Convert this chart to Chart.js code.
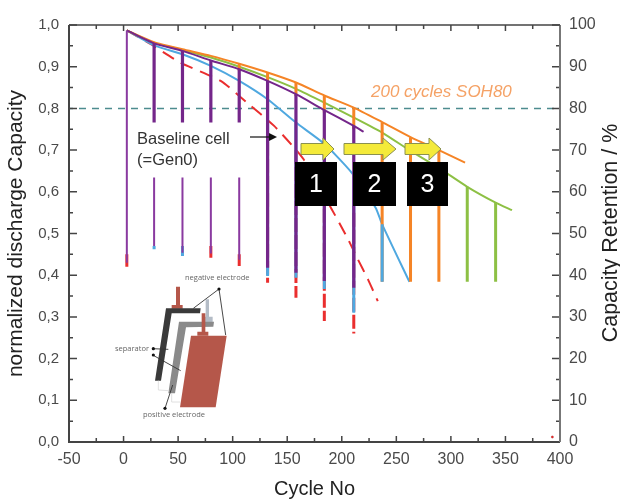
<!DOCTYPE html>
<html>
<head>
<meta charset="utf-8">
<title>Capacity retention</title>
<script src="https://cdn.jsdelivr.net/npm/chart.js@4/dist/chart.umd.min.js"></script>
<style>
html, body { margin: 0; padding: 0; background: #fff; }
canvas { display: block; }
</style>
</head>
<body>
<canvas id="capacityChart" width="620" height="501"></canvas>
<script>
// tick labels
var cycleTicks = [-50, 0, 50, 100, 150, 200, 250, 300, 350, 400];
var capacityTicks = [0, 0.1, 0.2, 0.3, 0.4, 0.5, 0.6, 0.7, 0.8, 0.9, 1];
var retentionTicks = [0, 10, 20, 30, 40, 50, 60, 70, 80, 90, 100];

// fade curves
var purpleCycles = [3, 28, 54, 80, 106, 132, 158, 184, 211, 220];
var purpleValues = [0.987, 0.956, 0.938, 0.915, 0.894, 0.866, 0.834, 0.796, 0.758, 0.744];
var orangeCycles = [3, 28, 54, 80, 106, 132, 158, 184, 211, 237, 263, 289, 313];
var orangeValues = [0.987, 0.959, 0.942, 0.926, 0.907, 0.886, 0.862, 0.831, 0.802, 0.767, 0.731, 0.7, 0.67];
var greenCycles = [3, 28, 54, 80, 106, 132, 158, 184, 211, 237, 263, 289, 315, 341, 356];
var greenValues = [0.987, 0.957, 0.94, 0.922, 0.9, 0.875, 0.847, 0.814, 0.778, 0.742, 0.698, 0.657, 0.612, 0.574, 0.556];
var blueCycles = [3, 28, 54, 80, 106, 132, 158, 184, 209, 231, 237, 262];
var blueValues = [0.987, 0.951, 0.93, 0.902, 0.866, 0.822, 0.766, 0.715, 0.646, 0.562, 0.522, 0.384];
var redCycles = [3, 25, 52, 89, 113, 138, 165, 190, 205, 214, 224, 233];
var redValues = [0.987, 0.954, 0.91, 0.866, 0.814, 0.758, 0.678, 0.562, 0.49, 0.442, 0.39, 0.338];

// drop lines: cycle, upper value, lower value
var purpleThinCycles = [3, 28, 54, 80, 106];
var purpleThinTops = [0.987, 0.634, 0.634, 0.634, 0.634];
var purpleThinBottoms = [0.43, 0.47, 0.454, 0.452, 0.437];
var purpleThickCycles = [28, 54, 80, 106, 132, 158, 184, 211];
var purpleThickTops = [0.956, 0.938, 0.915, 0.894, 0.866, 0.834, 0.796, 0.758];
var purpleThickBottoms = [0.766, 0.766, 0.766, 0.766, 0.418, 0.406, 0.386, 0.37];
var orangeDropCycles = [106, 132, 158, 184, 211, 237, 263, 289];
var orangeDropTops = [0.907, 0.886, 0.862, 0.831, 0.802, 0.767, 0.731, 0.7];
var orangeDropBottoms = [0.89, 0.86, 0.83, 0.79, 0.75, 0.384, 0.384, 0.384];
var greenDropCycles = [315, 341];
var greenDropTops = [0.612, 0.574];
var greenDropBottoms = [0.384, 0.384];
var blueDropCycles = [28, 54, 132, 158, 184, 211, 237];
var blueDropTops = [0.47, 0.47, 0.822, 0.766, 0.715, 0.646, 0.522];
var blueDropBottoms = [0.462, 0.446, 0.398, 0.394, 0.367, 0.31, 0.384];
var redDropCycles = [3, 80, 106, 132, 158, 184, 211];
var redDropTops = [0.45, 0.47, 0.45, 0.72, 0.7, 0.6, 0.55];
var redDropBottoms = [0.42, 0.442, 0.422, 0.382, 0.346, 0.29, 0.26];

var soh80Cycles = [-50, 400];
var soh80Retention = [80, 80];
var strayCycles = [393];
var strayValues = [0.012];

var TICK_COLOR = '#4a4a4a';
var FONT = 'Liberation Sans';

function toPoints(xs, ys) {
    return xs.map(function (x, i) { return { x: x, y: ys[i] }; });
}

function toDrops(xs, tops, bottoms) {
    var pts = [];
    xs.forEach(function (x, i) {
        pts.push({ x: x, y: tops[i] }, { x: x, y: bottoms[i] }, { x: x, y: NaN });
    });
    return pts;
}

function curve(label, pts, color, order, extra) {
    return Object.assign({
        label: label, data: pts, showLine: true, borderColor: color, backgroundColor: color,
        borderWidth: 2, pointRadius: 0, order: order, spanGaps: false, tension: 0.2
    }, extra || {});
}

function drops(label, pts, color, width, order, extra) {
    return curve(label, pts, color, order, Object.assign({ borderWidth: width, tension: 0, borderCapStyle: 'butt' }, extra || {}));
}

function poly(c, pts, fill) {
    c.beginPath();
    pts.forEach(function (p, i) {
        var x = 60 + p[0] / 3, y = 220 + p[1] / 3;
        if (i) c.lineTo(x, y); else c.moveTo(x, y);
    });
    c.closePath();
    c.fillStyle = fill;
    c.fill();
}

function insetLine(c, x1, y1, x2, y2) {
    c.beginPath();
    c.moveTo(60 + x1 / 3, 220 + y1 / 3);
    c.lineTo(60 + x2 / 3, 220 + y2 / 3);
    c.stroke();
}

function insetDot(c, x, y) {
    c.beginPath();
    c.arc(60 + x / 3, 220 + y / 3, 1.6, 0, Math.PI * 2);
    c.fillStyle = '#111';
    c.fill();
}

function drawInset(c) {
    var red = '#b5574a';
    poly(c, [[348, 200], [360, 200], [360, 255], [368, 255], [368, 266], [335, 266], [335, 255], [348, 255]], red);
    poly(c, [[437, 238], [447, 238], [447, 290], [458, 290], [458, 306], [430, 306], [430, 290], [437, 290]], '#b4bcc6');
    poly(c, [[318, 265], [422, 265], [420, 280], [335, 280], [303, 482], [285, 482]], '#3a3a3a');
    poly(c, [[357, 305], [462, 305], [460, 320], [378, 322], [345, 520], [325, 520]], '#8a8a8a');
    poly(c, [[425, 280], [436, 280], [436, 335], [445, 335], [445, 347], [412, 347], [412, 335], [425, 335]], red);
    poly(c, [[393, 347], [500, 347], [467, 562], [360, 562]], red);
    c.strokeStyle = '#d8d8d8';
    c.lineWidth = 0.8;
    insetLine(c, 295, 482, 295, 510);
    insetLine(c, 295, 510, 325, 512);
    insetLine(c, 335, 520, 335, 546);
    insetLine(c, 335, 546, 360, 546);
    c.strokeStyle = '#333';
    c.lineWidth = 0.9;
    insetLine(c, 477, 207, 400, 265);
    insetLine(c, 477, 207, 497, 345);
    insetLine(c, 278, 386, 325, 388);
    insetLine(c, 278, 405, 362, 452);
    insetLine(c, 315, 565, 338, 495);
    insetDot(c, 477, 207);
    insetDot(c, 280, 386);
    insetDot(c, 280, 405);
    insetDot(c, 315, 565);
    c.fillStyle = '#666';
    c.font = '7.5px "Open Sans"';
    c.textAlign = 'left';
    c.textBaseline = 'middle';
    c.fillText('negative electrode', 185, 278);
    c.fillText('separator', 115, 349);
    c.fillText('positive electrode', 143, 415);
}

function drawArrow(c, x1, headX, x2, y) {
    c.beginPath();
    c.moveTo(x1, y - 5.5);
    c.lineTo(headX, y - 5.5);
    c.lineTo(headX, y - 11);
    c.lineTo(x2, y);
    c.lineTo(headX, y + 11);
    c.lineTo(headX, y + 5.5);
    c.lineTo(x1, y + 5.5);
    c.closePath();
    c.fillStyle = '#f4ea3a';
    c.strokeStyle = '#8a9050';
    c.lineWidth = 1;
    c.fill();
    c.stroke();
}

function drawBox(c, left, right, text) {
    c.fillStyle = '#000';
    c.fillRect(left, 162, right - left, 44);
    c.fillStyle = '#fff';
    c.font = '25px "' + FONT + '"';
    c.textAlign = 'center';
    c.textBaseline = 'middle';
    c.fillText(text, (left + right) / 2, 185);
}

// axis frame with inward ticks, all four sides
var framePlugin = {
    id: 'frame',
    afterDatasetsDraw: function (chart) {
        var c = chart.ctx, a = chart.chartArea;
        var x = chart.scales.x, y = chart.scales.y;
        c.save();
        c.strokeStyle = '#444';
        c.lineWidth = 1.5;
        cycleTicks.forEach(function (v, i) {
            var px = x.getPixelForValue(v);
            c.beginPath();
            c.moveTo(px, a.bottom);
            c.lineTo(px, a.bottom - 6);
            c.moveTo(px, a.top);
            c.lineTo(px, a.top + 6);
            if (i < cycleTicks.length - 1) {
                var mid = x.getPixelForValue(v + 25);
                c.moveTo(mid, a.bottom);
                c.lineTo(mid, a.bottom - 4);
                c.moveTo(mid, a.top);
                c.lineTo(mid, a.top + 4);
            }
            c.stroke();
        });
        capacityTicks.forEach(function (v, i) {
            var py = y.getPixelForValue(v);
            c.beginPath();
            c.moveTo(a.left, py);
            c.lineTo(a.left + 8, py);
            c.moveTo(a.right, py);
            c.lineTo(a.right - 8, py);
            if (i < capacityTicks.length - 1) {
                var mid = y.getPixelForValue(v + 0.05);
                c.moveTo(a.left, mid);
                c.lineTo(a.left + 4, mid);
                c.moveTo(a.right, mid);
                c.lineTo(a.right - 4, mid);
            }
            c.stroke();
        });
        c.strokeStyle = '#444';
        c.lineWidth = 2;
        c.beginPath();
        c.moveTo(a.left, a.top);
        c.lineTo(a.left, a.bottom);
        c.lineTo(a.right, a.bottom);
        c.stroke();
        c.strokeStyle = '#777';
        c.beginPath();
        c.moveTo(a.right, a.bottom);
        c.lineTo(a.right, a.top);
        c.stroke();
        c.strokeStyle = '#444';
        c.lineWidth = 1.5;
        c.beginPath();
        c.moveTo(a.left, a.top);
        c.lineTo(a.right, a.top);
        c.stroke();
        c.restore();
    }
};

// notes, arrows, boxes and the cell sketch
var notesPlugin = {
    id: 'notes',
    afterDraw: function (chart) {
        var c = chart.ctx;
        c.save();
        drawInset(c);
        drawArrow(c, 301, 323, 334, 149);
        drawArrow(c, 344, 383, 396, 149);
        drawArrow(c, 405, 429, 441, 149);
        drawBox(c, 295, 337, '1');
        drawBox(c, 353, 396, '2');
        drawBox(c, 407, 448, '3');

        c.fillStyle = '#333';
        c.font = '16.5px "' + FONT + '"';
        c.textAlign = 'left';
        c.textBaseline = 'middle';
        c.fillText('Baseline cell', 137, 139);
        c.fillText('(=Gen0)', 137, 160);
        c.strokeStyle = '#111';
        c.lineWidth = 1.2;
        c.beginPath();
        c.moveTo(250, 137);
        c.lineTo(270, 137);
        c.stroke();
        c.beginPath();
        c.moveTo(277, 137);
        c.lineTo(269, 133);
        c.lineTo(269, 141);
        c.closePath();
        c.fillStyle = '#111';
        c.fill();

        c.fillStyle = '#f5a266';
        c.font = 'italic 17px "' + FONT + '"';
        c.fillText('200 cycles SOH80', 371, 92);

        // right axis title reads bottom to top, the scale title option cannot do that
        c.translate(611, 233);
        c.rotate(-Math.PI / 2);
        c.fillStyle = '#222';
        c.font = '21.5px "' + FONT + '"';
        c.textAlign = 'center';
        c.fillText('Capacity Retention / %', 0, 0);
        c.restore();
    }
};

var ctx = document.getElementById('capacityChart').getContext('2d');
var capacityChart = new Chart(ctx, {
    type: 'scatter',
    data: {
        datasets: [
            drops('purple thick', toDrops(purpleThickCycles, purpleThickTops, purpleThickBottoms), '#74268a', 3.2, 1),
            drops('purple thin', toDrops(purpleThinCycles, purpleThinTops, purpleThinBottoms), '#8a3aa0', 2, 2),
            curve('purple', toPoints(purpleCycles, purpleValues), '#74268a', 3),
            drops('blue drops', toDrops(blueDropCycles, blueDropTops, blueDropBottoms), '#4fa8e0', 3, 4),
            drops('orange drops', toDrops(orangeDropCycles, orangeDropTops, orangeDropBottoms), '#f58426', 3, 5),
            drops('green drops', toDrops(greenDropCycles, greenDropTops, greenDropBottoms), '#8dc044', 3, 6),
            curve('orange', toPoints(orangeCycles, orangeValues), '#f58426', 7),
            curve('green', toPoints(greenCycles, greenValues), '#8dc044', 8),
            curve('blue', toPoints(blueCycles, blueValues), '#4fa8e0', 9),
            curve('red', toPoints(redCycles, redValues), '#ea2e2e', 10, { borderDash: [13, 8] }),
            drops('red drops', toDrops(redDropCycles, redDropTops, redDropBottoms), '#ea2e2e', 3, 11, { borderDash: [14, 3] }),
            curve('SOH80', toPoints(soh80Cycles, soh80Retention), '#4d8c8f', 12, { yAxisID: 'y2', borderDash: [7, 6], borderDashOffset: 3, borderWidth: 1.5, tension: 0 }),
            { label: 'stray', data: toPoints(strayCycles, strayValues), backgroundColor: '#ea2e2e', pointRadius: 1.2, order: 13 }
        ]
    },
    options: {
        responsive: false,
        animation: false,
        layout: { padding: { top: 25, left: 0, right: 0, bottom: 0 } },
        plugins: {
            legend: { display: false },
            tooltip: { enabled: false },
            title: { display: false }
        },
        scales: {
            x: {
                type: 'linear',
                min: -50,
                max: 400,
                afterBuildTicks: function (s) { s.ticks = cycleTicks.map(function (v) { return { value: v }; }); },
                afterFit: function (s) { s.height = 59; },
                grid: { display: false, drawTicks: false },
                border: { display: false },
                ticks: { color: TICK_COLOR, padding: 8, maxRotation: 0, autoSkip: false, font: { family: FONT, size: 16 } },
                title: {
                    display: true, text: 'Cycle No', color: '#222',
                    padding: { top: 8, bottom: 0 }, font: { family: FONT, size: 20 }
                }
            },
            y: {
                type: 'linear',
                min: 0,
                max: 1,
                afterBuildTicks: function (s) { s.ticks = capacityTicks.map(function (v) { return { value: v }; }); },
                afterFit: function (s) { s.width = 69; },
                grid: { display: false, drawTicks: false },
                border: { display: false },
                ticks: {
                    color: TICK_COLOR, padding: 10, autoSkip: false, font: { family: FONT, size: 15 },
                    callback: function (v) { return v.toFixed(1).replace('.', ','); }
                },
                title: {
                    display: true, text: 'normalized discharge Capacity', color: '#222',
                    padding: { top: 4, bottom: 0 }, font: { family: FONT, size: 21 }
                }
            },
            y2: {
                type: 'linear',
                position: 'right',
                min: 0,
                max: 100,
                afterBuildTicks: function (s) { s.ticks = retentionTicks.map(function (v) { return { value: v }; }); },
                afterFit: function (s) { s.width = 60; },
                grid: { display: false, drawTicks: false },
                border: { display: false },
                ticks: { color: TICK_COLOR, padding: 9, autoSkip: false, font: { family: FONT, size: 16 } }
            }
        }
    },
    plugins: [framePlugin, notesPlugin]
});
</script>
</body>
</html>
